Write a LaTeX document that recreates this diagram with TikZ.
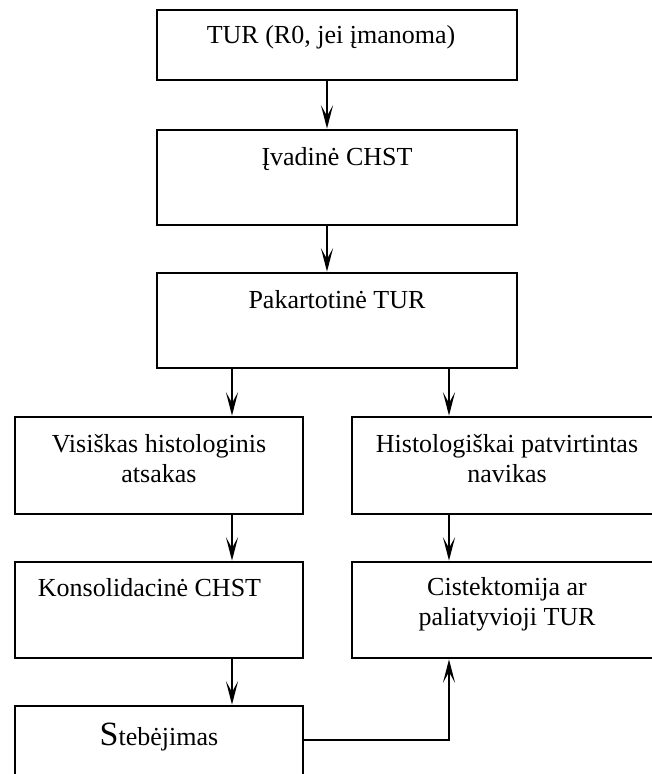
\documentclass[tikz,border=0pt]{standalone}
\usepackage{fontspec}
\setmainfont{Liberation Serif}
\usetikzlibrary{arrows.meta, calc}

\begin{document}
\begin{tikzpicture}[
    x=0.03cm, y=-0.03cm,
    arr/.style={-{Stealth[length=0.7cm, width=0.36cm, inset=0.32cm]}, line width=2pt},
    box/.style={rectangle, draw, line width=2.3pt, inner sep=0pt},
    lbl/.style={font=\fontsize{22.2}{25.6}\selectfont, align=center, anchor=base, inner sep=0pt},
  ]
    \useasboundingbox (0,0) rectangle (652,774);
    \clip (0,0) rectangle (652,774);

    % Main column
    \node[box, minimum width=10.8cm, minimum height=2.1cm] (b1) at (337,45) {};
    \node[box, minimum width=10.8cm, minimum height=2.85cm] (b2) at (337,177.5) {};
    \node[box, minimum width=10.8cm, minimum height=2.85cm] (b3) at (337,320.5) {};

    % Two branches
    \node[box, minimum width=8.64cm, minimum height=2.91cm] (b4) at (159,465.5) {};
    \node[box, minimum width=9.3cm, minimum height=2.91cm] (b5) at (507,465.5) {};
    \node[box, minimum width=8.64cm, minimum height=2.88cm] (b6) at (159,610) {};
    \node[box, minimum width=9.3cm, minimum height=2.88cm] (b7) at (507,610) {};
    \node[box, minimum width=8.64cm, minimum height=2.88cm] (b8) at (159,754) {};

    % Texts (base = last line)
    \node[lbl] (t1) at (331,43) {TUR (R0, jei įmanoma)};
    \node[lbl] (t2) at (337,165) {Įvadinė CHST};
    \node[lbl] (t3) at (337,308) {Pakartotinė TUR};
    \node[lbl] (t4) at (159,482) {Visiškas histologinis\\atsakas};
    \node[lbl] (t5) at (507,482) {Histologiškai patvirtintas\\navikas};
    \node[lbl] (t6) at (149.5,596) {Konsolidacinė CHST};
    \node[lbl] (t7) at (507,625) {Cistektomija ar\\paliatyvioji TUR};
    \node[lbl] (t8) at (159,745) {{\fontsize{29}{30}\selectfont S}tebėjimas};

    % Arrow columns
    \coordinate (mcol) at (327,0);
    \coordinate (lcol) at (232,0);
    \coordinate (rcol) at (449,0);

    % Arrows
    \draw[arr] (b1.south -| mcol) -- (b2.north -| mcol);
    \draw[arr] (b2.south -| mcol) -- (b3.north -| mcol);
    \draw[arr] (b3.south -| lcol) -- (b4.north -| lcol);
    \draw[arr] (b3.south -| rcol) -- (b5.north -| rcol);
    \draw[arr] (b4.south -| lcol) -- (b6.north -| lcol);
    \draw[arr] (b5.south -| rcol) -- (b7.north -| rcol);
    \draw[arr] (b6.south -| lcol) -- (b8.north -| lcol);
    \draw[arr] ($(b8.east)+(0,-14)$) -| (b7.south -| rcol);
  \end{tikzpicture}
\end{document}
